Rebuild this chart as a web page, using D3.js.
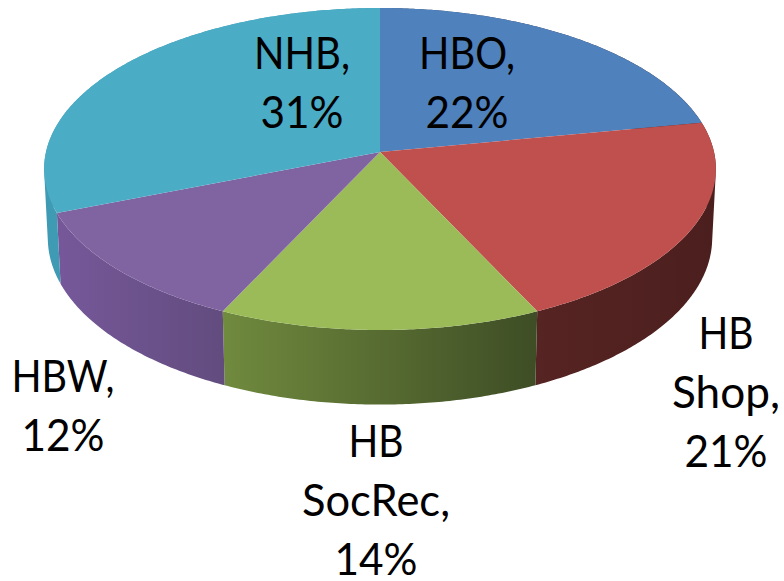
<!DOCTYPE html>
<html>
<head>
<meta charset="utf-8">
<script src="https://cdn.jsdelivr.net/npm/d3@7"></script>
<style>
  html, body { margin: 0; padding: 0; background: #fff; }
  svg { display: block; }
  text { font-family: Lato, "Open Sans", sans-serif; fill: #000; }
</style>
</head>
<body>
<div id="chart"></div>
<script>
// trip purpose shares, clockwise from twelve o'clock
const purposes = ['HBO', 'HB Shop', 'HB SocRec', 'HBW', 'NHB'];
const shares = [22, 21, 14, 12, 31];
const topColors = ['#4f81bd', '#c0504d', '#9bbb59', '#8064a2', '#4bacc6'];
const wallLeft = ['#2f4d71', '#562422', '#708a3e', '#76589a', '#3f9ab3'];
const wallRight = ['#4b1f1e', '#4b1f1e', '#3e4d25', '#624c7e', '#3f9ab3'];
const labelLines = [['HBO,', '22%'], ['HB', 'Shop,', '21%'], ['HB', 'SocRec,', '14%'], ['HBW,', '12%'], ['NHB,', '31%']];
const labelWidths = [[96, 83], [55, 108, 83], [55, 148, 83], [103, 83], [96, 83]];
const labelCenters = [[467, 69], [726, 349], [376, 457], [63, 392], [302, 69]];

const width = 784, height = 581;
const cx = 380, cy = 152;
const radiusX = 334, radiusY = 159.2;
const perspective = 0.1056; // foreshortening from back to front of the disc
const wallDrop = 69.5, wallShrink = 0.011;
const fontSize = 44, lineGap = 59;

const svg = d3.select('#chart').append('svg')
  .attr('width', width)
  .attr('height', height);

// project a pie angle onto the tilted disc; depth 0 = top face, 1 = bottom rim
const project = (angle, r, depth) => {
  const px = Math.sin(angle) * r;
  const py = -Math.cos(angle) * r;
  const d = 1 - perspective * py + wallShrink * depth;
  return [cx + radiusX * px / d, cy + (radiusY * py + wallDrop * depth) / d];
};

const arcs = d3.pie().sort(null).value(d => d)(shares);
const sampleAngles = a => {
  const n = Math.max(2, Math.ceil((a.endAngle - a.startAngle) / 0.01));
  return d3.range(n + 1).map(i => a.startAngle + (a.endAngle - a.startAngle) * i / n);
};
const line = d3.line();
const defs = svg.append('defs');

// side wall, drawn first so the top face sits over its back half.
// Built from thin quads with one winding so the sweep fills past the rim tangents.
const walls = svg.append('g');
arcs.forEach((a, i) => {
  const angles = sampleAngles(a);
  const quads = d3.pairs(angles).map(([t0, t1]) => {
    const q = [project(t0, 1, 0), project(t1, 1, 0), project(t1, 1, 1), project(t0, 1, 1)];
    return d3.polygonArea(q) < 0 ? q.reverse() : q;
  });
  const [x0, x1] = d3.extent(quads.flat(), p => p[0]);
  const grad = defs.append('linearGradient')
    .attr('id', `wall${i}`)
    .attr('gradientUnits', 'userSpaceOnUse')
    .attr('x1', x0).attr('x2', x1)
    .attr('y1', 0).attr('y2', 0);
  grad.append('stop').attr('offset', 0).attr('stop-color', wallLeft[i]);
  grad.append('stop').attr('offset', 1).attr('stop-color', wallRight[i]);
  walls.append('path')
    .attr('d', quads.map(q => line(q) + 'Z').join(''))
    .attr('fill', `url(#wall${i})`);
});

// top face
svg.append('g').selectAll('path')
  .data(arcs)
  .join('path')
  .attr('d', a => line([[cx, cy], ...sampleAngles(a).map(t => project(t, 1, 0))]) + 'Z')
  .attr('fill', (a, i) => topColors[i]);

// data labels, one text per wrapped line
const labels = svg.append('g').selectAll('g')
  .data(purposes)
  .join('g');

labels.each(function(d, i) {
  d3.select(this).selectAll('text')
    .data(labelLines[i])
    .join('text')
    .attr('text-anchor', 'middle')
    .attr('font-size', fontSize)
    .attr('x', labelCenters[i][0])
    .attr('y', (s, j) => labelCenters[i][1] + j * lineGap)
    .attr('textLength', (s, j) => labelWidths[i][j])
    .attr('lengthAdjust', 'spacingAndGlyphs')
    .text(s => s);
});
</script>
</body>
</html>
